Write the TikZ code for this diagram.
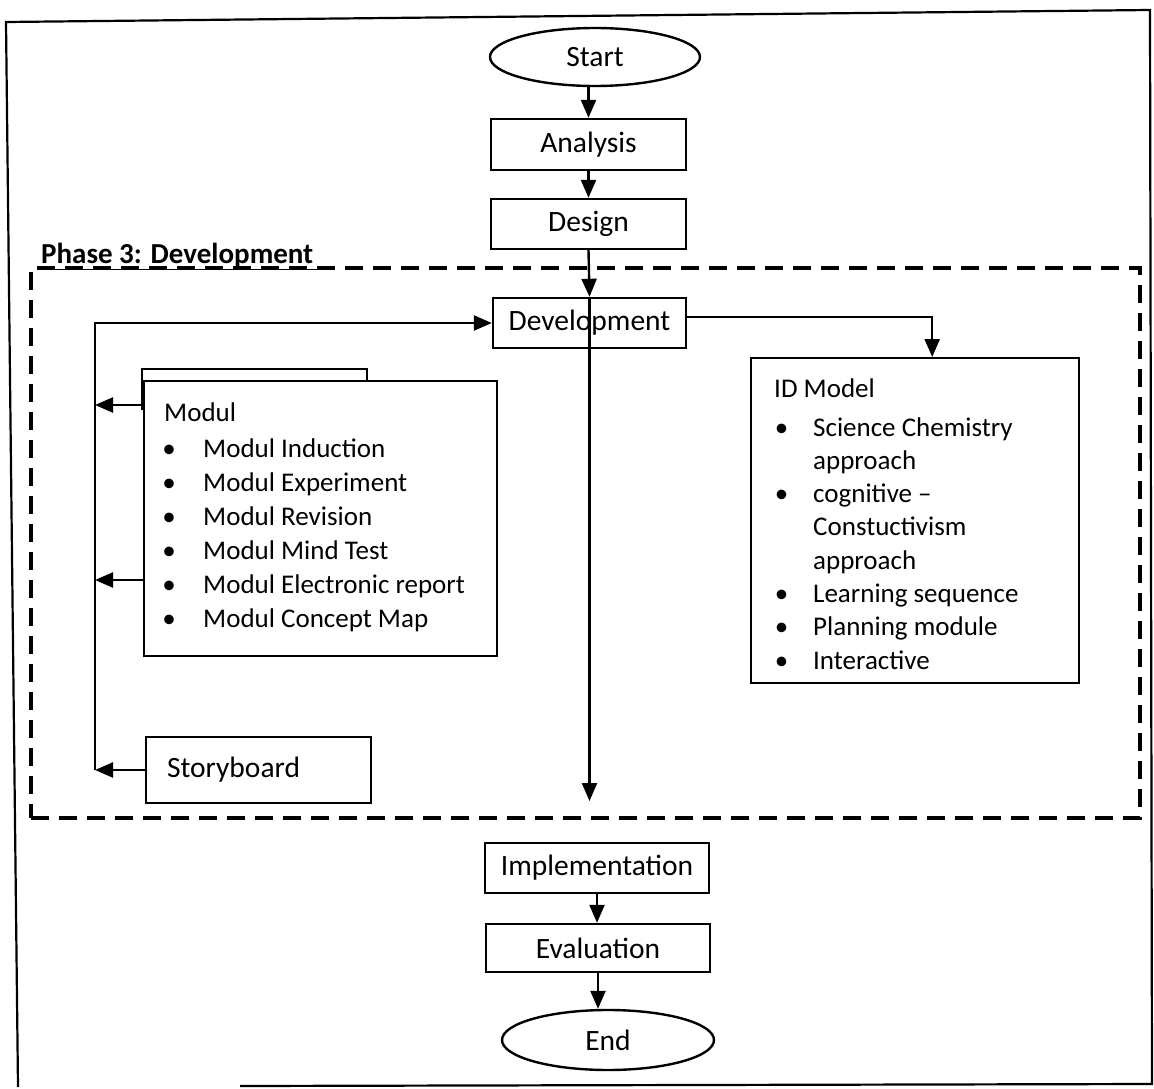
\documentclass[tikz,border=0pt]{standalone}
\usepackage{fontspec}
\setmainfont{Carlito}
\usetikzlibrary{arrows.meta,shapes.geometric,calc}

% bullet helpers for the two lists
\newcommand\modbul{\makebox[10pt][c]{\textbullet}\hspace*{29pt}}
\newcommand\idbul{\makebox[15pt][c]{\textbullet}\hspace*{24pt}}
\newcommand\idcont{\hspace*{39pt}}

\begin{document}
\begin{tikzpicture}[x=1pt,y=-1pt,
  line width=2.4pt,
  boxfont/.style={font=\fontsize{29.5}{34}\selectfont},
  box/.style={draw, rectangle, inner sep=0pt, boxfont},
  oval/.style={draw, ellipse, inner sep=0pt, boxfont},
  panel/.style={draw, rectangle, inner sep=0pt, anchor=north west},
  arr/.style={-{Triangle[length=18pt,width=15pt]}},
  listtext/.style={font=\fontsize{27}{34}\selectfont, inner sep=0pt, anchor=base west},
  phaseline/.style={draw, line width=4.5pt, dash pattern=on 18pt off 10pt, inner sep=0pt},
  frameline/.style={line width=2.2pt},
]
\useasboundingbox (0,0) rectangle (1154,1089);

% outer frame
\draw[frameline] (240,1086) -- (1152,1084) -- (1150,10) -- (6,22) -- (18,1087);

% phase 3 region
\node[phaseline, minimum width=1109pt, minimum height=550pt] (phasebox) at (585.5,543) {};
\node[inner sep=0pt, anchor=base west, font=\bfseries\fontsize{29}{31}\selectfont] (phaselabel) at (40,263) {\underline{Phase 3: Development\ }};

% main flow
\node[oval, minimum width=210pt, minimum height=58pt] (start) at (595,57) {Start};
\node[box, minimum width=195pt, minimum height=51pt] (analysis) at (588.5,144.5) {Analysis};
\node[box, minimum width=195pt, minimum height=50pt] (design) at (588.5,224) {Design};
\node[box, minimum width=193pt, minimum height=50pt] (development) at (589.5,323) {Development};
\node[box, minimum width=224pt, minimum height=50pt] (implementation) at (597,868) {Implementation};
\node[box, minimum width=224pt, minimum height=48pt] (evaluation) at (598,948) {Evaluation};
\node[oval, minimum width=212pt, minimum height=60pt] (end) at (608,1040) {End};

% module stack
\node[panel, fill=white, minimum width=225pt, minimum height=40pt] (modulback) at (141,368) {};
\node[panel, fill=white, minimum width=353pt, minimum height=275pt] (modul) at (143,380) {};
\node[listtext] (modultext) at (163,421) {\begin{tabular}[t]{@{}l@{}}
Modul\\[2pt]
\modbul Modul Induction\\
\modbul Modul Experiment\\
\modbul Modul Revision\\
\modbul Modul Mind Test\\
\modbul Modul Electronic report\\
\modbul Modul Concept Map
\end{tabular}};

% storyboard
\node[box, minimum width=225pt, minimum height=66pt, text width=183pt, inner xsep=21pt, align=left] (storyboard) at (258.5,770) {Storyboard};

% instructional design model
\node[panel, minimum width=328pt, minimum height=325pt] (idmodel) at (750,357) {};
\node[listtext, font=\fontsize{27}{33.3}\selectfont] (idtext) at (773,397) {\begin{tabular}[t]{@{}l@{}}
ID Model\\[5.7pt]
\idbul Science Chemistry\\
\idcont approach\\
\idbul cognitive --\\
\idcont Constuctivism\\
\idcont approach\\
\idbul Learning sequence\\
\idbul Planning module\\
\idbul Interactive
\end{tabular}};

% connectors
\coordinate (phaseexit) at (592,801);
\coordinate (loopbot) at (95,770);
\coordinate (loopA) at (95,405);
\coordinate (loopB) at (95,580);

\draw[arr] (start.south -| analysis.north) -- (analysis.north);
\draw[arr] (analysis.south) -- (design.north);
\draw[arr] (design.south) -- (development.north);
\draw[arr] (development.north) -- (development.north |- phaseexit);
\draw[arr] ([yshift=6pt]development.east) -| ([xshift=17pt]idmodel.north);
\draw[arr] (loopbot) |- (development.west);
\draw[arr] (modul.west |- loopA) -- (loopA);
\draw[arr] (modul.west |- loopB) -- (loopB);
\draw[arr] (storyboard.west) -- (loopbot);
\draw[arr] (implementation.south) -- (implementation.south |- evaluation.north);
\draw[arr] (evaluation.south) -- (evaluation.south |- end.north);
\end{tikzpicture}
\end{document}
